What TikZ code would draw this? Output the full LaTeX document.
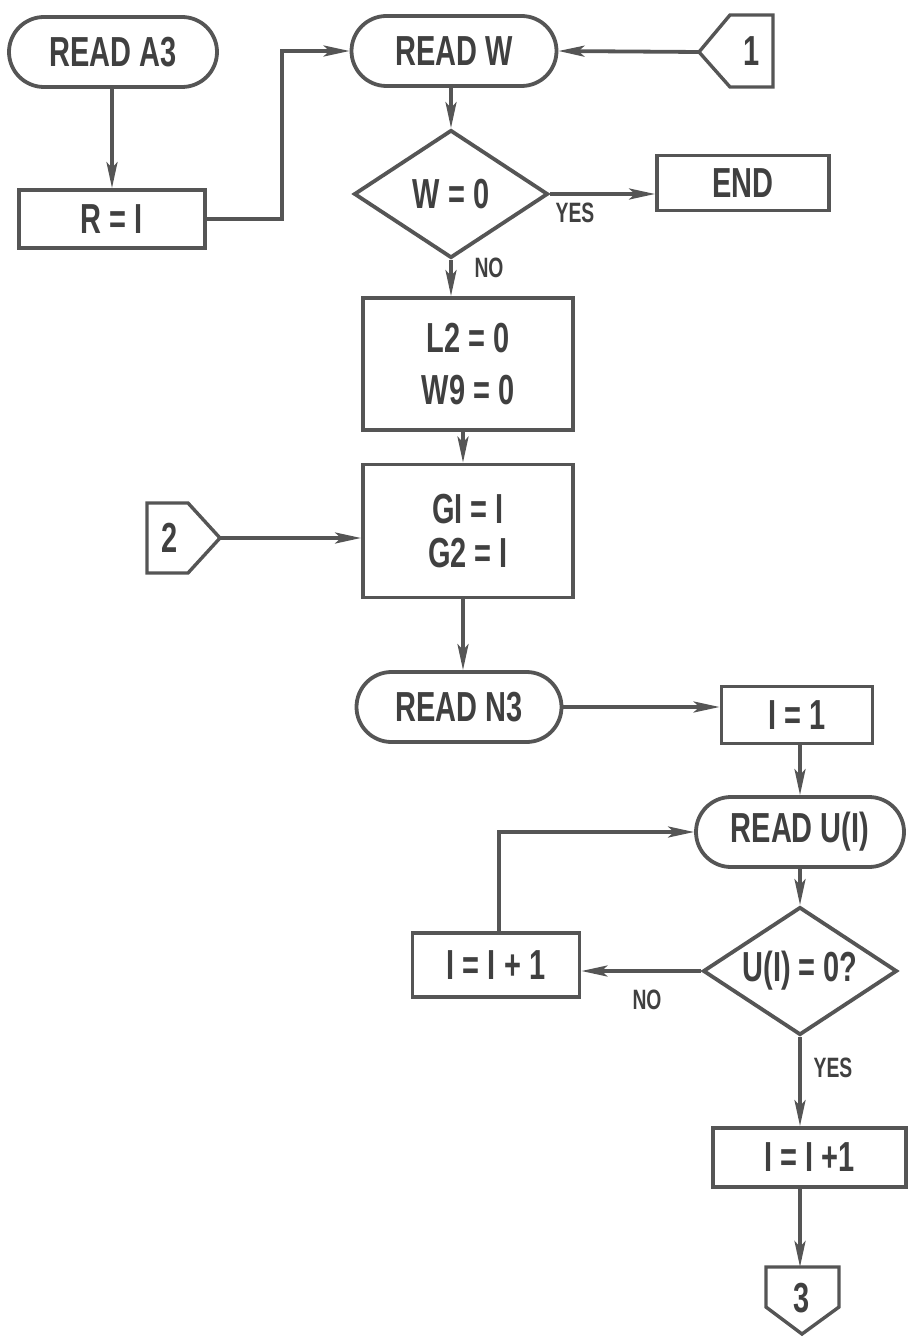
\documentclass[tikz,border=0pt]{standalone}
\usepackage{fontspec}
\setmainfont{Liberation Sans}[FakeStretch=0.69]
\usetikzlibrary{shapes.geometric,arrows.meta}
\definecolor{ink}{RGB}{85,85,85}
\definecolor{txt}{RGB}{64,64,64}
\begin{document}
\begin{tikzpicture}[x=1pt,y=-1pt,line width=3.8pt,color=ink,
 base/.style={font=\bfseries\fontsize{42}{44}\selectfont, text=txt, inner sep=0pt},
 term/.style={base, draw, rectangle, rounded corners=35pt, minimum height=70pt},
 proc/.style={base, draw, rectangle},
 dec/.style={draw, diamond, inner sep=0pt, minimum width=194pt, minimum height=128pt},
 lbl/.style={font=\bfseries\fontsize{28}{30}\selectfont, text=txt, inner sep=0pt},
 arr/.style={-{Stealth[length=26pt,width=11pt,inset=6pt]}},
 conn/.style={line width=3.4pt, line join=miter}]
\useasboundingbox (0,0) rectangle (909,1337);

% nodes
\node[term, minimum width=208pt] (a3) at (113,52) {READ A3};
\node[proc, minimum width=186pt, minimum height=58pt] (r1) at (112,219) {R = I};
\node[term, minimum width=205pt] (rw) at (454,51) {READ W};
\node[dec] (d1) at (451,194) {};
\node[base] (d1t) at (451,194) {W = 0};
\node[proc, minimum width=172pt, minimum height=55pt] (end) at (743,183) {END};
\node[proc, minimum width=210pt, minimum height=132pt, align=center] (l2) at (468,364) {L2 = 0\\[8pt]W9 = 0};
\node[proc, minimum width=210pt, minimum height=133pt, align=center] (g1) at (468,531) {GI = I\\G2 = I};
\node[term, minimum width=205pt] (n3) at (459,707) {READ N3};
\node[proc, minimum width=151pt, minimum height=57pt] (i1) at (797,715) {I = 1};
\node[term, minimum width=208pt] (ru) at (800,832) {READ U(I)};
\node[dec] (d2) at (800,971) {};
\node[base] (d2t) at (800,971) {U(I) = 0?};
\node[proc, minimum width=167pt, minimum height=64pt] (ip) at (496,965) {I = I + 1};
\node[proc, minimum width=193pt, minimum height=59pt] (ib) at (809.5,1157.5) {I = I +1};

% labels
\node[lbl] (yes1) at (575,213) {YES};
\node[lbl] (no1) at (489,268) {NO};
\node[lbl] (no2) at (647,1000) {NO};
\node[lbl] (yes2) at (833,1068) {YES};

% connectors (off-page / on-page symbols)
\draw[conn] (699,52) -- (730,15) -- (773,15) -- (773,87) -- (730,87) -- cycle;
\coordinate (c1tip) at (699,52);
\node[base] (c1) at (752,51) {1};
\draw[conn] (147,503) -- (188,503) -- (220,538) -- (188,573) -- (147,573) -- cycle;
\coordinate (c2tip) at (220,538);
\node[base] (c2) at (170,538) {2};
\draw[conn] (766,1267) -- (839,1267) -- (839,1307) -- (802,1334) -- (766,1307) -- cycle;
\coordinate (c3top) at (800,1267);
\node[base] (c3) at (802,1298) {3};
\coordinate (k1) at (282,0);

% edges
\draw[arr] (r1.north |- a3.south) -- (r1.north);
\draw[arr] (r1.east) -| (k1 |- rw.west) -- (rw.west);
\draw[arr] (c1tip) -- (rw.east);
\draw[arr] (rw.south -| d1.north) -- (d1.north);
\draw[arr] (d1.east) -- (d1.east -| end.west);
\draw[arr] (d1.south) -- (d1.south |- l2.north);
\draw[arr] ([xshift=-5pt]l2.south) -- ([xshift=-5pt]g1.north);
\draw[arr] (c2tip) -- (c2tip -| g1.west);
\draw[arr] ([xshift=-5pt]g1.south) -- ([xshift=-5pt]g1.south |- n3.north);
\draw[arr] (n3.east) -- (n3.east -| i1.west);
\draw[arr] (ru.north |- i1.south) -- (ru.north);
\draw[arr] (ru.south) -- (d2.north);
\draw[arr] (d2.west) -- (d2.west -| ip.east);
\draw[arr] ([xshift=3pt]ip.north) |- (ru.west);
\draw[arr] (d2.south) -- (d2.south |- ib.north);
\draw[arr] (ib.south -| c3top) -- (c3top);
\end{tikzpicture}
\end{document}
